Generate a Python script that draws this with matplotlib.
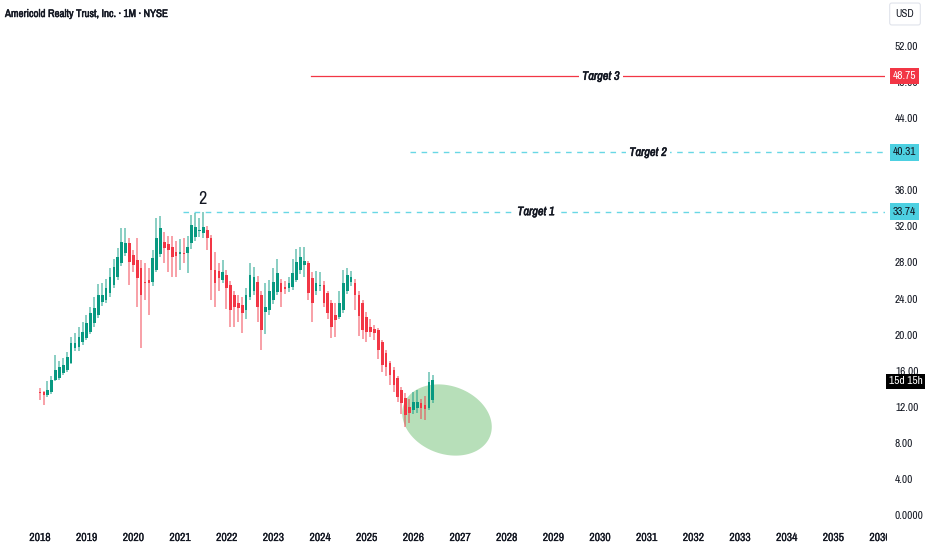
import matplotlib
matplotlib.use("Agg")
import matplotlib.pyplot as plt
import matplotlib.transforms as mtransforms
import matplotlib.patheffects as pe
from matplotlib import font_manager
import numpy as np

# ---------------- data ----------------
start_year = 2018
opens = [13.8, 13.7, 13.4, 13.7, 15.1, 15.3, 15.9, 16.2, 17.0, 18.6, 18.7, 19.3, 19.7, 20.4, 21.4, 22.3,
         23.7, 23.9, 24.7, 25.6, 26.5, 28.0, 29.2, 30.3, 28.9, 28.4, 27.5, 25.9, 26.2, 25.9, 27.3, 29.0,
         30.4, 30.2, 29.8, 29.3, 29.1, 29.2, 29.2, 30.3, 30.9, 31.6, 31.4, 31.7, 30.8, 27.3, 27.2, 26.2,
         26.7, 25.6, 24.5, 23.6, 23.4, 22.8, 24.3, 25.0, 25.9, 24.5, 22.6, 22.8, 23.9, 24.8, 25.8, 25.4,
         25.3, 25.4, 26.2, 27.3, 27.8, 28.0, 26.4, 25.0, 25.5, 25.6, 24.7, 23.6, 22.3, 22.1, 22.8, 25.0,
         25.9, 25.8, 24.5, 23.6, 22.1, 21.0, 20.7, 20.6, 19.3, 18.1, 17.0, 16.2, 15.3, 14.0, 13.1, 12.1,
         11.8, 12.0, 12.5, 12.3, 12.0, 12.9]
highs = [14.2, 13.9, 15.0, 15.5, 17.8, 17.2, 17.5, 18.2, 19.8, 20.3, 20.9, 21.5, 22.3, 23.2, 24.3, 25.7,
         25.8, 26.3, 27.5, 28.5, 29.7, 31.9, 31.9, 30.8, 29.5, 30.8, 28.4, 28.0, 27.5, 29.5, 33.0, 33.3,
         31.5, 31.0, 31.0, 30.5, 30.7, 30.8, 31.0, 33.4, 33.6, 33.0, 33.74, 32.2, 31.2, 29.3, 28.0, 28.4,
         27.3, 26.0, 25.0, 24.5, 24.3, 25.3, 28.0, 27.6, 26.6, 25.0, 25.8, 26.2, 27.5, 28.5, 26.3, 26.0,
         26.5, 28.5, 29.6, 29.8, 29.8, 28.3, 27.0, 27.2, 27.0, 26.0, 25.0, 24.0, 23.6, 25.0, 27.3, 27.5,
         27.2, 26.3, 25.0, 24.0, 22.6, 21.8, 21.2, 20.8, 19.5, 18.4, 17.2, 16.5, 15.5, 14.3, 13.6, 13.0,
         13.8, 14.0, 13.0, 13.3, 16.0, 15.6]
lows = [12.9, 12.3, 13.2, 13.5, 15.0, 15.1, 15.6, 16.0, 16.8, 18.3, 18.3, 19.0, 19.5, 20.2, 21.0, 22.0,
        23.3, 23.6, 24.3, 25.3, 26.2, 27.7, 28.8, 25.6, 27.0, 23.2, 18.6, 24.0, 22.3, 25.5, 27.0, 28.7,
        28.0, 27.0, 26.5, 26.5, 27.3, 28.0, 26.9, 29.6, 30.5, 30.9, 30.8, 29.5, 24.0, 23.2, 25.0, 25.8,
        23.0, 21.0, 21.0, 21.5, 20.3, 21.8, 24.0, 24.5, 21.5, 18.4, 20.2, 22.3, 23.5, 24.5, 23.2, 24.6,
        24.8, 25.1, 25.9, 26.8, 26.5, 23.9, 21.5, 24.5, 25.0, 23.2, 21.8, 19.7, 19.8, 21.8, 22.5, 24.6,
        25.5, 22.8, 20.0, 19.6, 19.3, 19.8, 19.5, 17.4, 16.0, 15.5, 14.5, 13.8, 12.6, 11.3, 9.9, 10.3,
        11.3, 11.4, 10.7, 10.6, 11.8, 12.5]
closes = [13.6, 13.4, 14.0, 15.1, 16.2, 16.5, 16.7, 17.6, 19.2, 19.2, 19.8, 20.4, 21.4, 22.5, 23.1, 24.5,
          24.5, 25.3, 26.5, 27.6, 28.7, 30.4, 30.3, 28.2, 27.8, 26.4, 24.5, 25.8, 25.8, 28.6, 30.8, 31.9,
          29.7, 29.5, 28.7, 28.8, 29.2, 29.0, 29.8, 32.3, 32.0, 31.7, 32.0, 30.8, 27.3, 25.8, 26.4, 27.0,
          25.3, 22.8, 23.2, 23.1, 22.5, 24.5, 26.7, 26.5, 23.2, 20.6, 23.2, 25.0, 25.9, 26.9, 24.8, 25.2,
          25.8, 26.9, 28.2, 28.7, 28.3, 24.7, 23.6, 25.8, 25.6, 23.6, 22.5, 21.0, 21.7, 23.6, 25.8, 26.7,
          26.5, 24.5, 22.2, 20.6, 20.4, 20.4, 20.3, 18.4, 16.7, 16.5, 15.6, 14.5, 13.2, 12.5, 11.2, 11.4,
          12.6, 12.6, 12.0, 11.9, 14.9, 15.1]

year_labels = list(range(2018, 2037))
price_ticks = [0, 4, 8, 12, 16, 20, 24, 28, 32, 36, 44, 48, 52]
target_names = ["Target 1", "Target 2", "Target 3"]
target_values = [33.74, 40.31, 48.75]
target_starts = [2021.06, 2025.93, 2023.81]
target_text_x = [2028.63, 2031.03, 2030.02]
wave_label = "2"
wave_pos = (2021.47, 35.1)
countdown_label = "15d 15h"
countdown_price = 14.95
title = "Americold Realty Trust, Inc. \u00b7 1M \u00b7 NYSE"

# ---------------- fonts ----------------
flist = font_manager.fontManager.ttflist
names = {f.name for f in flist}
narrow = sorted(n for n in names if "Narrow" in n or "Condensed" in n)
STRETCH = "normal"
if "Liberation Sans Narrow" in names:
    FONT = "Liberation Sans Narrow"
elif narrow:
    FONT = narrow[0]
elif any(f.name == "DejaVu Sans" and f.stretch == "condensed" for f in flist):
    FONT = "DejaVu Sans"
    STRETCH = "condensed"
elif "Roboto" in names:
    FONT = "Roboto"
else:
    FONT = "DejaVu Sans"
plt.rcParams['font.family'] = [FONT, 'DejaVu Sans']
plt.rcParams['font.stretch'] = STRETCH

UP = "#089981"
DOWN = "#f23645"
TXT = "#131722"
CYAN = "#4dd0e1"

def bolden(w=0.45, c=TXT):
    return [pe.withStroke(linewidth=w, foreground=c)]

W, H = 932, 550
fig = plt.figure(figsize=(W / 100, H / 100), dpi=100)
fig.patch.set_facecolor("white")

# pixel layout
X0, PPY = 40.0, 46.67          # px of 2018, px per year
Y0, PPU = 516.0, 9.02          # px of price 0, px per unit
AX_R, AX_B = 885.0, 525.0
ax = fig.add_axes([0, (H - AX_B) / H, AX_R / W, AX_B / H])
ax.set_xlim(start_year - X0 / PPY, start_year + (AX_R - X0) / PPY)
ax.set_ylim((Y0 - AX_B) / PPU, Y0 / PPU)
ax.axis("off")

def px_to_year(px):
    return start_year + (px - X0) / PPY

def py_to_price(py):
    return (Y0 - py) / PPU

# ---------------- ellipse highlight ----------------
cx, cy, a, b, th = 447, 420, 46, 34, np.deg2rad(20)
t = np.linspace(0, 2 * np.pi, 200)
ex = cx + a * np.cos(t) * np.cos(th) - b * np.sin(t) * np.sin(th)
ey = cy + a * np.cos(t) * np.sin(th) + b * np.sin(t) * np.cos(th)
ax.fill([px_to_year(v) for v in ex], [py_to_price(v) for v in ey],
        facecolor="#4caf50", alpha=0.4, edgecolor="none", zorder=1)

# ---------------- candles ----------------
n = len(closes)
xs = start_year + np.arange(n) / 12.0
bw = 0.7 / 12.0
for x, o, h, l, c in zip(xs, opens, highs, lows, closes):
    col = UP if c >= o else DOWN
    ax.plot([x - 0.006, x - 0.006], [l, h], color=col, lw=1.1, alpha=0.6,
            solid_capstyle="butt", zorder=3)
    lo, hi = min(o, c), max(o, c)
    if hi - lo < 0.15:
        hi = lo + 0.15
    ax.add_patch(plt.Rectangle((x - bw / 2, lo), bw, hi - lo, facecolor=col,
                               edgecolor="none", zorder=4))

# ---------------- target lines ----------------
x_end = ax.get_xlim()[1]
for name, val, xs0, xt in zip(target_names, target_values, target_starts, target_text_x):
    if name == "Target 3":
        ax.plot([xs0, x_end], [val, val], color=DOWN, lw=0.9, zorder=2)
        bg, fg = DOWN, "white"
    else:
        ax.plot([xs0, x_end], [val, val], color=CYAN, lw=1.0, ls=(0, (4, 4)), alpha=0.85, zorder=2)
        bg, fg = CYAN, TXT
    ax.text(xt, val, name, ha="center", va="center", fontsize=8.8, fontstyle="italic",
            fontweight="bold", color=TXT, zorder=5, path_effects=bolden(0.4),
            bbox=dict(facecolor="white", edgecolor="none", pad=2.5))
    ax.text(904.5 / AX_R, val, f"{val:.2f}", transform=ax.get_yaxis_transform(),
            ha="center", va="center", fontsize=8.2, color=fg, clip_on=False, zorder=7,
            bbox=dict(boxstyle="square,pad=0.28", facecolor=bg, edgecolor="none"))

# wave label
ax.text(wave_pos[0], wave_pos[1], wave_label, ha="center", va="center", fontsize=13, color=TXT, zorder=6)

# ---------------- price axis labels ----------------
for p in price_ticks:
    lab = "0.0000" if p == 0 else f"{p:.2f}"
    ax.text(895 / AX_R, p, lab, transform=ax.get_yaxis_transform(), ha="left", va="center",
            fontsize=8.2, color=TXT, clip_on=False, zorder=6)

ax.text(905.5 / AX_R, countdown_price, countdown_label, transform=ax.get_yaxis_transform(),
        ha="center", va="center", fontsize=8.2, color="white", clip_on=False, zorder=7,
        bbox=dict(boxstyle="square,pad=0.22", facecolor="black", edgecolor="none"))

# USD box
fig.text(905 / W, 1 - 14 / H, "USD", ha="center", va="center", fontsize=7.8, color=TXT,
         bbox=dict(boxstyle="round,pad=0.55,rounding_size=0.2", facecolor="white", edgecolor="#e0e3eb", lw=0.8))

# ---------------- time axis labels ----------------
clip = mtransforms.TransformedBbox(mtransforms.Bbox([[0, 0], [887 / W, 1]]), fig.transFigure)
ylab = ((H - 538) - (H - AX_B)) / AX_B
for yr in year_labels:
    tx = ax.text(yr, ylab, str(yr), transform=ax.get_xaxis_transform(), ha="center", va="center",
                 fontsize=8.4, color=TXT, clip_on=True, path_effects=bolden(0.15))
    tx.set_clip_box(clip)

# title
fig.text(5 / W, 1 - 14 / H, title, ha="left", va="center", fontsize=7.9, color=TXT,
         fontweight="bold", path_effects=bolden(0.35))

fig.savefig("out.png", dpi=100, facecolor="white")
